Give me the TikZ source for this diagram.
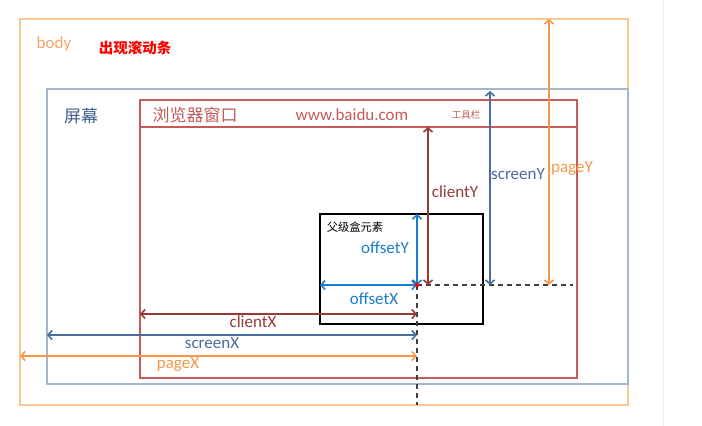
\documentclass[tikz,border=0pt]{standalone}
\usepackage{fontspec}
\setmainfont{Carlito}
\newfontfamily\cjk{Noto Sans CJK SC}
\usetikzlibrary{arrows.meta}
\definecolor{bodyc}{HTML}{FAC591}
\definecolor{bodyt}{HTML}{F6A56A}
\definecolor{pagec}{HTML}{F79646}
\definecolor{scrc}{HTML}{A5B5CB}
\definecolor{scrt}{HTML}{3F5F8C}
\definecolor{scra}{HTML}{4A6C9E}
\definecolor{winc}{HTML}{C55A58}
\definecolor{clic}{HTML}{963A38}
\definecolor{offc}{HTML}{1A7DCC}
\tikzstyle{twoway}=[{Straight Barb[length=4pt,width=9pt]}-{Straight Barb[length=4pt,width=9pt]}, line width=1.6pt]
\tikzstyle{lbl}=[inner sep=0pt, font=\fontsize{17}{17}\selectfont]
\tikzstyle{guide}=[dashed, dash pattern=on 5pt off 4pt, line width=1.2pt, black!75]

\begin{document}
\begin{tikzpicture}[x=1pt, y=-1pt]
\useasboundingbox[fill=white] (0,0) rectangle (702,426);
% Page edge
    \draw[black!8, line width=1pt] (663,0) -- (663,426);
% Boxes
    \draw[bodyc, line width=2pt] (20,19) rectangle (628,405);
    \draw[scrc, line width=2pt] (47,89) rectangle (628,384);
    \draw[winc, line width=2pt] (140,100) rectangle (577,378);
    \draw[winc, line width=2pt] (140,127) -- (577,127);
    \draw[black, line width=2pt] (320,214) rectangle (483,324);
% Key points
    \coordinate (P) at (417,285);
    \coordinate (bodyL) at (20,356);
    \coordinate (bodyT) at (549,19);
    \coordinate (scrL) at (47,335);
    \coordinate (scrT) at (490,91);
    \coordinate (winL) at (140,314);
    \coordinate (winT) at (428,127);
    \coordinate (boxL) at (320,285);
    \coordinate (boxT) at (417,214);
    \coordinate (guideR) at (573,285);
    \coordinate (guideB) at (417,405);
% Texts
    \node[lbl, text=bodyt] (body) at (54,44) {body};
    \node[lbl, text=red, font=\cjk\bfseries\fontsize{14.5}{14.5}\selectfont] (scroll) at (135,48) {出现滚动条};
    \node[lbl, text=scrt, font=\cjk\fontsize{17}{17}\selectfont] (screen) at (81,116) {屏幕};
    \node[lbl, text=winc, font=\cjk\fontsize{17}{17}\selectfont] (window) at (195,115) {浏览器窗口};
    \node[lbl, text=winc] (url) at (352,115) {www.baidu.com};
    \node[lbl, text=winc, font=\cjk\fontsize{9.5}{9.5}\selectfont] (toolbar) at (466,115) {工具栏};
    \node[lbl, font=\cjk\fontsize{11.3}{11.3}\selectfont] (parent) at (355,227) {父级盒元素};
% Guide lines
    \draw[guide] (P) -- (guideR);
    \draw[guide] (P) -- (guideB);
% Arrows
    \draw[twoway, pagec] (bodyL) -- (bodyL -| P);
    \draw[twoway, pagec] (bodyT) -- (bodyT |- P);
    \draw[twoway, scra] (scrL) -- (scrL -| P);
    \draw[twoway, scra] (scrT) -- (scrT |- P);
    \draw[twoway, clic] (winL) -- (winL -| P);
    \draw[twoway, clic] (winT) -- (winT |- P);
    \draw[twoway, offc] (boxL) -- (P);
    \draw[twoway, offc] (boxT) -- (P);
    \fill[red] (P) circle(2.2pt);
% Arrow labels
    \node[lbl, text=pagec] (pageX) at (178,365) {pageX};
    \node[lbl, text=pagec] (pageY) at (572,169) {pageY};
    \node[lbl, text=scra] (screenX) at (212,343) {screenX};
    \node[lbl, text=scra] (screenY) at (518,174) {screenY};
    \node[lbl, text=clic] (clientX) at (253,322) {clientX};
    \node[lbl, text=clic] (clientY) at (455,192) {clientY};
    \node[lbl, text=offc] (offsetX) at (374,299) {offsetX};
    \node[lbl, text=offc] (offsetY) at (385,248) {offsetY};
\end{tikzpicture}
\end{document}
